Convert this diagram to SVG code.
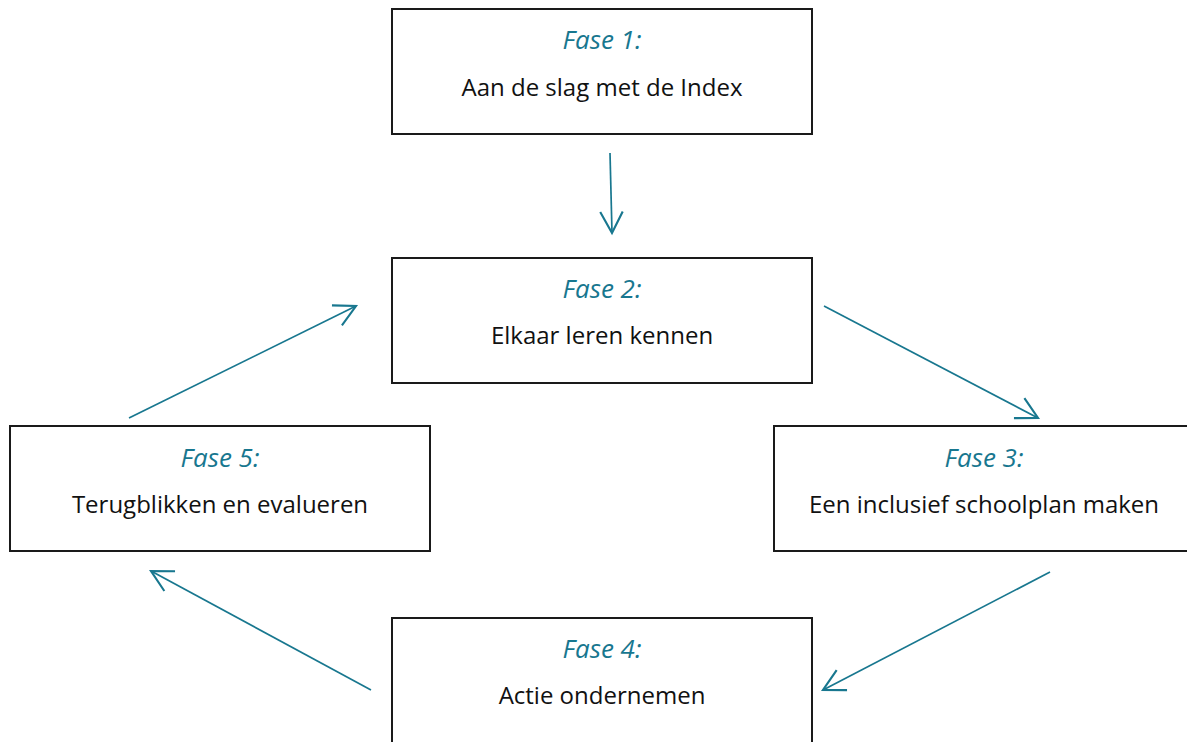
<svg xmlns="http://www.w3.org/2000/svg" width="1187" height="742" viewBox="0 0 1187 742">
<defs>
<style>
.box{fill:#fff;stroke:#1a1a1a;stroke-width:2}
.fase{font-family:"Open Sans",sans-serif;font-style:italic;font-size:26px;fill:#18778f;text-anchor:middle}
.lbl{font-family:"Open Sans",sans-serif;font-size:24px;fill:#111;text-anchor:middle}
.arr{stroke:#18778f;stroke-width:1.7;fill:none;marker-end:url(#ah)}
</style>
<marker id="ah" markerUnits="userSpaceOnUse" markerWidth="30" markerHeight="30" refX="0" refY="0" viewBox="-20 -12 24 24" orient="auto" overflow="visible">
<path d="M-17,-9 L0,0 L-17,9" fill="none" stroke="#18778f" stroke-width="1.7"/>
</marker>
</defs>
<rect width="1187" height="742" fill="#fff"/>
<g id="connectors">
<line class="arr" x1="610" y1="153" x2="612" y2="233"/>
<line class="arr" x1="824" y1="306" x2="1038" y2="418"/>
<line class="arr" x1="1050" y1="572" x2="823" y2="690"/>
<line class="arr" x1="371" y1="690" x2="151" y2="571"/>
<line class="arr" x1="129" y1="418" x2="356" y2="306"/>
</g>
<g id="fase1">
<rect class="box" x="392" y="9" width="420" height="125"/>
<text class="fase" x="602" y="49">Fase 1:</text>
<text class="lbl" x="602" y="96">Aan de slag met de Index</text>
</g>
<g id="fase2">
<rect class="box" x="392" y="258" width="420" height="125"/>
<text class="fase" x="602" y="298">Fase 2:</text>
<text class="lbl" x="602" y="344">Elkaar leren kennen</text>
</g>
<g id="fase3">
<rect class="box" x="774" y="426" width="420" height="125"/>
<text class="fase" x="984" y="467">Fase 3:</text>
<text class="lbl" x="984" y="513">Een inclusief schoolplan maken</text>
</g>
<g id="fase4">
<rect class="box" x="392" y="618" width="420" height="135"/>
<text class="fase" x="602" y="658">Fase 4:</text>
<text class="lbl" x="602" y="704">Actie ondernemen</text>
</g>
<g id="fase5">
<rect class="box" x="10" y="426" width="420" height="125"/>
<text class="fase" x="220" y="467">Fase 5:</text>
<text class="lbl" x="220" y="513">Terugblikken en evalueren</text>
</g>
</svg>
